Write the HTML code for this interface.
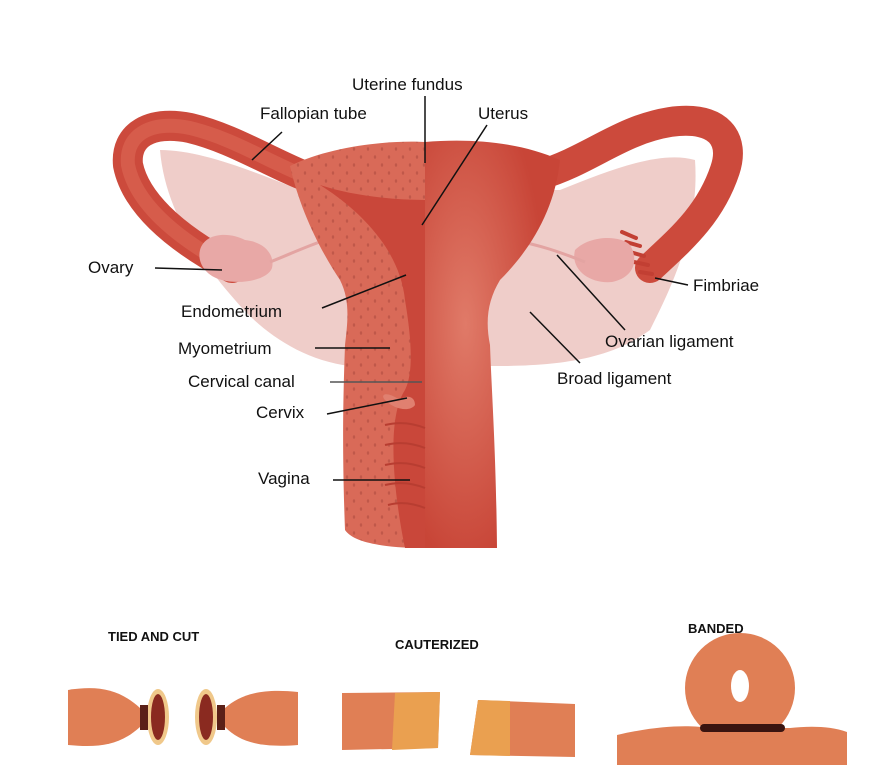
<!DOCTYPE html>
<html><head><meta charset="utf-8"><style>
html,body{margin:0;padding:0;background:#fff;}
svg{display:block;}
text{font-family:"Liberation Sans",sans-serif;fill:#111;}
</style></head><body>
<svg width="874" height="776" viewBox="0 0 874 776" xmlns="http://www.w3.org/2000/svg">
<defs>
<radialGradient id="ug" cx="0.3" cy="0.45" r="0.6">
<stop offset="0" stop-color="#e07a68"/><stop offset="1" stop-color="#c84537"/></radialGradient>
<pattern id="dots" width="14" height="16" patternUnits="userSpaceOnUse">
<rect width="14" height="16" fill="#d96a58"/><ellipse cx="4" cy="5" rx="1.2" ry="1.8" fill="#c0584a"/><ellipse cx="11" cy="13" rx="1.2" ry="1.8" fill="#c0584a"/></pattern>
</defs>
<!-- broad ligament -->
<path d="M160,150 C200,150 250,170 300,190 L560,190 C610,170 660,150 695,160 C700,230 670,290 650,330 C620,352 580,366 500,366 L350,366 C300,360 260,330 235,300 C200,260 165,210 160,150 Z" fill="#efcdc9"/>
<!-- left tube -->
<path d="M330,185 C280,170 240,140 190,128 C150,120 125,135 128,165 C135,200 170,235 232,268" fill="none" stroke="#cc4a3c" stroke-width="30" stroke-linecap="round"/>
<path d="M330,185 C280,170 240,140 190,128 C150,120 125,135 128,165 C135,200 170,235 232,268" fill="none" stroke="#d65c4b" stroke-width="14"/>
<!-- right tube -->
<path d="M540,175 C590,160 620,130 670,122 C720,115 735,140 725,170 C710,215 680,240 650,268" fill="none" stroke="#cc4a3c" stroke-width="30" stroke-linecap="round"/>
<g stroke="#c23f33" stroke-width="4" stroke-linecap="round">
<line x1="622" y1="232" x2="636" y2="238"/><line x1="626" y1="242" x2="640" y2="246"/><line x1="630" y1="252" x2="644" y2="256"/><line x1="634" y1="262" x2="648" y2="265"/><line x1="640" y1="272" x2="652" y2="274"/></g>
<!-- ovaries -->
<path d="M200,250 C205,232 230,232 245,240 C265,242 275,255 272,268 C268,280 240,285 222,280 C205,276 197,262 200,250Z" fill="#e8a8a6"/>
<path d="M575,250 C590,235 620,235 630,245 C640,262 632,278 612,282 C590,284 570,270 575,250Z" fill="#e8a8a6"/>
<path d="M270,262 C300,250 320,240 345,235" stroke="#e3a4a2" stroke-width="3" fill="none"/>
<path d="M512,240 C540,245 560,252 585,262" stroke="#e3a4a2" stroke-width="3" fill="none"/>
<!-- uterus right half -->
<path d="M425,142 C470,138 520,142 560,160 C555,210 530,250 500,280 C488,300 485,320 490,345 C492,400 496,450 497,548 L425,548 Z" fill="url(#ug)"/>
<!-- uterus left half (cut) -->
<path d="M425,142 C390,140 330,146 290,166 C300,210 320,250 340,280 C350,300 348,320 345,345 C343,400 342,450 345,530 C355,545 395,548 425,548 Z" fill="url(#dots)"/>
<path d="M425,142 L425,548 L405,548 C395,500 385,420 405,390 C415,370 410,330 405,300 C400,250 360,210 320,185 C350,195 390,200 425,200 Z" fill="#c9473a"/>
<path d="M400,400 C405,395 415,395 415,405 C410,412 395,410 385,400 C380,395 385,390 400,400Z" fill="#e08070"/>
<g stroke="#b83d31" stroke-width="2" fill="none"><path d="M385,425 Q405,420 425,428"/><path d="M385,445 Q405,440 425,448"/><path d="M385,465 Q405,460 425,468"/><path d="M385,485 Q405,480 425,488"/><path d="M388,505 Q405,500 425,508"/></g>
<!-- labels & leaders -->
<g font-size="17">
<text x="352" y="90">Uterine fundus</text>
<text x="260" y="119">Fallopian tube</text>
<text x="478" y="119">Uterus</text>
<text x="88" y="273">Ovary</text>
<text x="181" y="317">Endometrium</text>
<text x="178" y="354">Myometrium</text>
<text x="188" y="387">Cervical canal</text>
<text x="256" y="418">Cervix</text>
<text x="258" y="484">Vagina</text>
<text x="693" y="291">Fimbriae</text>
<text x="605" y="347">Ovarian ligament</text>
<text x="557" y="384">Broad ligament</text>
</g>
<g stroke="#111" stroke-width="1.5">
<line x1="425" y1="96" x2="425" y2="163"/>
<line x1="282" y1="132" x2="252" y2="160"/>
<line x1="487" y1="125" x2="422" y2="225"/>
<line x1="155" y1="268" x2="222" y2="270"/>
<line x1="322" y1="308" x2="406" y2="275"/>
<line x1="315" y1="348" x2="390" y2="348"/>
<line x1="330" y1="382" x2="422" y2="382" stroke="#555"/>
<line x1="327" y1="414" x2="407" y2="398"/>
<line x1="333" y1="480" x2="410" y2="480"/>
<line x1="688" y1="285" x2="655" y2="278"/>
<line x1="625" y1="330" x2="557" y2="255"/>
<line x1="580" y1="363" x2="530" y2="312"/>
</g>
<!-- bottom -->
<g font-size="13" font-weight="bold">
<text x="108" y="641">TIED AND CUT</text>
<text x="395" y="649">CAUTERIZED</text>
<text x="688" y="633">BANDED</text>
</g>
<!-- tied and cut -->
<path d="M68,690 C100,685 120,690 140,708 L140,727 C120,745 100,748 68,745Z" fill="#e07f55"/>
<ellipse cx="158" cy="717" rx="11" ry="28" fill="#f0c88a"/><ellipse cx="158" cy="717" rx="7" ry="23" fill="#8a2a20"/>
<rect x="140" y="705" width="8" height="25" fill="#5a2018"/>
<path d="M298,692 C260,688 240,695 225,708 L225,727 C240,742 260,748 298,745Z" fill="#e07f55"/>
<ellipse cx="206" cy="717" rx="11" ry="28" fill="#f0c88a"/><ellipse cx="206" cy="717" rx="7" ry="23" fill="#8a2a20"/>
<rect x="217" y="705" width="8" height="25" fill="#5a2018"/>
<!-- cauterized -->
<path d="M342,693 L440,692 L438,748 L342,750Z" fill="#e07f55"/>
<path d="M395,693 L440,692 L438,748 L392,750Z" fill="#eaa050"/>
<path d="M478,700 L575,704 L575,757 L470,755Z" fill="#e07f55"/>
<path d="M478,700 L510,701 L510,756 L470,755Z" fill="#eaa050"/>
<!-- banded -->
<path d="M617,735 C660,725 690,725 710,728 L790,728 C810,726 830,726 847,732 L847,765 L617,765Z" fill="#e07f55"/>
<circle cx="740" cy="688" r="55" fill="#e07f55"/>
<ellipse cx="740" cy="686" rx="9" ry="16" fill="#fff"/>
<rect x="700" y="724" width="85" height="8" rx="4" fill="#3a1410"/>
</svg>
</body></html>
